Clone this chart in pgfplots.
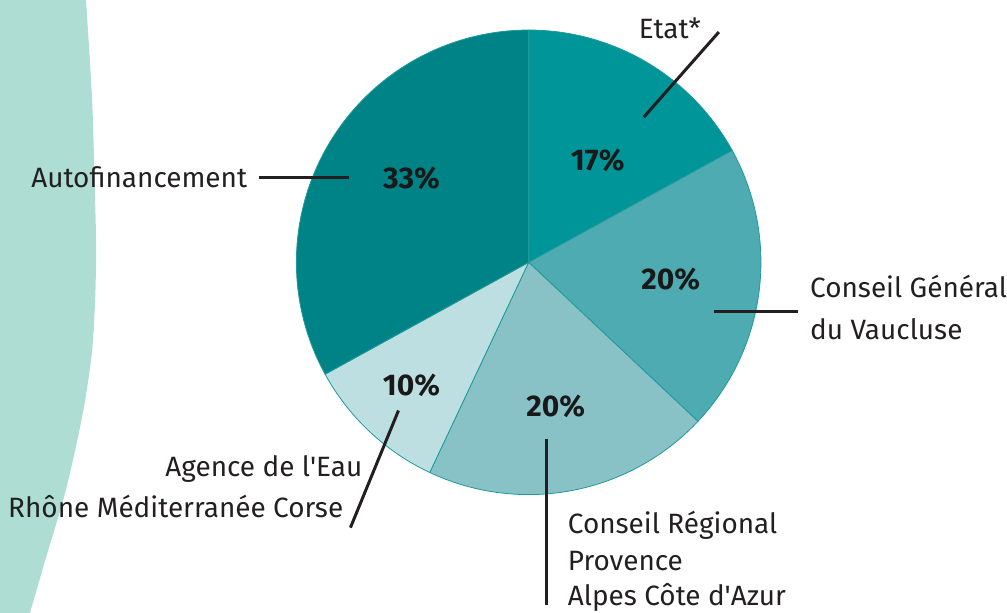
\documentclass[border=0pt]{standalone}
\usepackage{fontspec}
\setmainfont{Fira Sans}
\usepackage{pgfplots}
\pgfplotsset{compat=1.18}
\definecolor{cEtat}{HTML}{009598}
\definecolor{cCG}{HTML}{4DABB1}
\definecolor{cCR}{HTML}{89C2C6}
\definecolor{cAg}{HTML}{BEDFE1}
\definecolor{cAuto}{HTML}{008386}
\definecolor{cBg}{HTML}{AEDDD4}
\definecolor{cEdge}{HTML}{1E9A9C}
\definecolor{cTxt}{HTML}{231F20}
\newcommand{\ap}{\XeTeXglyph\XeTeXcharglyph"0027\relax}
\begin{document}
\begin{tikzpicture}[font=\fontsize{28}{34}\selectfont]
\begin{axis}[scale only axis, width=1007bp, height=612bp,
  xmin=0, xmax=1007, ymin=0, ymax=612, hide axis, clip=true]
% background shape
\addplot[fill=cBg, draw=none, smooth] coordinates {
 (-200,-60) (-200,680) (84,660) (86,612) (92,512) (95,412) (96,362) (95,312)
 (92,262) (85,212) (75,162) (63,112) (48,62) (30,0) (22,-30) (-200,-60)} -- cycle;
% pie: values 17 (Etat), 20 (CG), 20 (CR), 10 (Agence), 33 (Auto)
\addplot[fill=cEtat, draw=cEdge, line width=0.8bp, domain={90-17*3.6}:{90}, samples=80, variable=\t]
  ({528+232*cos(\t)},{350+232*sin(\t)}) -- (axis cs:528,350) -- cycle;
\addplot[fill=cCG, draw=cEdge, line width=0.8bp, domain={90-37*3.6}:{90-17*3.6}, samples=80, variable=\t]
  ({528+232*cos(\t)},{350+232*sin(\t)}) -- (axis cs:528,350) -- cycle;
\addplot[fill=cCR, draw=cEdge, line width=0.8bp, domain={90-57*3.6}:{90-37*3.6}, samples=80, variable=\t]
  ({528+232*cos(\t)},{350+232*sin(\t)}) -- (axis cs:528,350) -- cycle;
\addplot[fill=cAg, draw=cEdge, line width=0.8bp, domain={90-67*3.6}:{90-57*3.6}, samples=60, variable=\t]
  ({528+232*cos(\t)},{350+232*sin(\t)}) -- (axis cs:528,350) -- cycle;
\addplot[fill=cAuto, draw=cEdge, line width=0.8bp, domain={90-100*3.6}:{90-67*3.6}, samples=100, variable=\t]
  ({528+232*cos(\t)},{350+232*sin(\t)}) -- (axis cs:528,350) -- cycle;
% percentages
\tikzset{pct/.style={anchor=base, text=black!90, font=\fontsize{30}{36}\selectfont\bfseries}}
\node[pct] at (axis cs:597,442) {17\%};
\node[pct] at (axis cs:670,323) {20\%};
\node[pct] at (axis cs:555,196) {20\%};
\node[pct] at (axis cs:411,217) {10\%};
\node[pct] at (axis cs:411,424) {33\%};
% leader lines
\draw[cTxt, line width=3bp] (axis cs:718,580) -- (axis cs:643,495);
\draw[cTxt, line width=3bp] (axis cs:259,435) -- (axis cs:349,435);
\draw[cTxt, line width=3bp] (axis cs:713,301) -- (axis cs:797,301);
\draw[cTxt, line width=3bp] (axis cs:546,174) -- (axis cs:546,8);
\draw[cTxt, line width=3bp] (axis cs:398,202) -- (axis cs:350,85);
% category labels
\node[anchor=base west, text=cTxt, inner sep=0pt] at (axis cs:638,574) {Etat*};
\node[anchor=base east, text=cTxt, inner sep=0pt] at (axis cs:247,425) {Autofinancement};
\node[anchor=base west, text=cTxt, inner sep=0pt] at (axis cs:809,315) {Conseil Général};
\node[anchor=base west, text=cTxt, inner sep=0pt] at (axis cs:809,273) {du Vaucluse};
\node[anchor=base west, text=cTxt, inner sep=0pt] at (axis cs:567,79) {Conseil Régional};
\node[anchor=base west, text=cTxt, inner sep=0pt] at (axis cs:567,42) {Provence};
\node[anchor=base west, text=cTxt, inner sep=0pt] at (axis cs:567,7) {Alpes Côte d\ap Azur};
\node[anchor=base east, text=cTxt, inner sep=0pt] at (axis cs:362,136) {Agence de l\ap Eau};
\node[anchor=base east, text=cTxt, inner sep=0pt] at (axis cs:343,95) {Rhône Méditerranée Corse};
\end{axis}
\end{tikzpicture}
\end{document}
